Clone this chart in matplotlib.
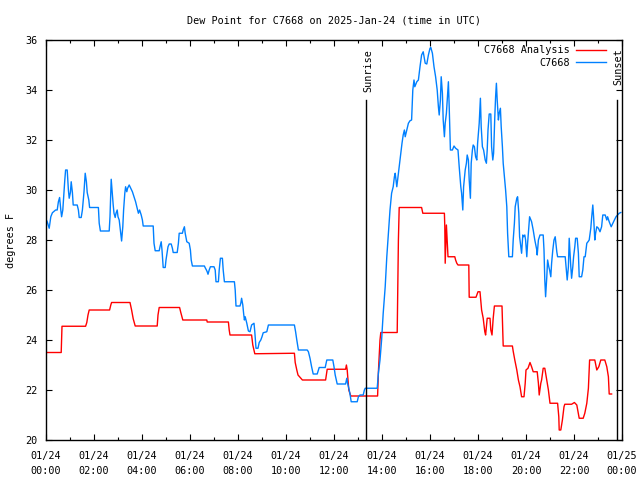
import matplotlib
matplotlib.use("Agg")
import matplotlib.pyplot as plt
import matplotlib.dates as mdates
import matplotlib.transforms as mtransforms
import pandas as pd

plt.rcParams['font.family'] = ['DejaVu Sans Mono']

title = "Dew Point for C7668 on 2025-Jan-24 (time in UTC)"
day = "2025-01-24"

# C7668 observations: minutes after 00:00 UTC, dew point (F)
obs_min = [0, 3, 8, 12, 16, 24, 28, 31, 34, 37, 39, 42, 47, 49, 53, 56, 58, 61, 63, 66, 68, 78, 81, 83, 88, 91, 95, 98, 101, 103, 107, 109, 131, 133, 136, 158, 160, 163, 165, 168, 170, 173, 175, 178, 180, 183, 185, 188, 189, 192, 194, 197, 199, 202, 204, 208, 212, 216, 220, 224, 228, 231, 234, 238, 241, 243, 268, 270, 273, 283, 285, 288, 290, 292, 293, 298, 300, 303, 305, 308, 313, 316, 318, 328, 331, 333, 341, 343, 346, 348, 352, 358, 361, 363, 366, 396, 398, 401, 403, 405, 408, 411, 420, 423, 425, 431, 433, 436, 441, 443, 446, 471, 473, 475, 485, 487, 489, 492, 494, 496, 498, 502, 506, 510, 514, 520, 522, 525, 530, 533, 537, 540, 543, 552, 556, 621, 624, 627, 631, 653, 656, 660, 664, 668, 678, 683, 698, 702, 717, 720, 723, 728, 749, 752, 754, 758, 760, 763, 778, 781, 785, 793, 796, 798, 828, 831, 835, 839, 843, 848, 852, 856, 860, 864, 868, 871, 873, 877, 879, 883, 887, 890, 893, 896, 898, 902, 906, 910, 914, 917, 920, 922, 927, 931, 935, 939, 943, 948, 952, 956, 960, 962, 966, 970, 974, 978, 981, 983, 986, 988, 991, 993, 996, 998, 1001, 1003, 1006, 1008, 1011, 1016, 1020, 1024, 1030, 1033, 1037, 1039, 1042, 1044, 1048, 1051, 1053, 1056, 1058, 1061, 1063, 1066, 1068, 1071, 1074, 1077, 1079, 1083, 1086, 1088, 1091, 1094, 1098, 1101, 1103, 1105, 1108, 1112, 1114, 1117, 1119, 1122, 1124, 1126, 1128, 1131, 1133, 1136, 1138, 1141, 1143, 1146, 1149, 1152, 1154, 1157, 1166, 1168, 1171, 1173, 1177, 1179, 1182, 1184, 1187, 1189, 1192, 1194, 1197, 1199, 1202, 1204, 1207, 1209, 1214, 1218, 1222, 1227, 1228, 1231, 1235, 1243, 1245, 1247, 1249, 1252, 1254, 1257, 1259, 1262, 1264, 1267, 1270, 1273, 1277, 1279, 1298, 1301, 1303, 1306, 1308, 1312, 1314, 1317, 1319, 1322, 1324, 1328, 1331, 1333, 1339, 1342, 1345, 1348, 1352, 1355, 1358, 1362, 1364, 1367, 1369, 1372, 1374, 1377, 1381, 1385, 1389, 1392, 1398, 1402, 1404, 1408, 1413, 1417, 1421, 1425, 1429, 1433, 1437]
obs_val = [28.83, 28.73, 28.47, 28.93, 29.09, 29.2, 29.2, 29.53, 29.7, 29.2, 28.93, 29.2, 30.4, 30.8, 30.8, 30.0, 29.67, 29.9, 30.33, 29.9, 29.4, 29.4, 29.2, 28.9, 28.9, 29.2, 29.93, 30.67, 30.33, 29.9, 29.6, 29.3, 29.3, 28.67, 28.36, 28.36, 28.93, 30.43, 30.0, 29.4, 29.07, 28.9, 29.07, 29.2, 28.93, 28.8, 28.53, 28.13, 27.96, 28.53, 29.2, 29.87, 30.13, 29.93, 30.07, 30.2, 30.07, 29.93, 29.73, 29.53, 29.27, 29.07, 29.2, 29.0, 28.8, 28.56, 28.56, 27.87, 27.57, 27.57, 27.73, 27.93, 27.6, 27.13, 26.9, 26.9, 27.2, 27.53, 27.73, 27.84, 27.84, 27.67, 27.5, 27.5, 27.87, 28.27, 28.27, 28.4, 28.53, 28.27, 27.93, 27.87, 27.6, 27.2, 26.96, 26.96, 26.89, 26.8, 26.73, 26.63, 26.8, 26.93, 26.93, 26.8, 26.33, 26.33, 26.8, 27.27, 27.27, 26.8, 26.33, 26.33, 26.0, 25.36, 25.36, 25.47, 25.67, 25.4, 25.07, 24.8, 24.93, 24.67, 24.36, 24.33, 24.6, 24.67, 24.33, 23.67, 23.67, 23.9, 24.0, 24.13, 24.29, 24.33, 24.6, 24.6, 24.33, 24.0, 23.6, 23.6, 23.53, 23.27, 22.93, 22.64, 22.64, 22.9, 22.9, 23.2, 23.2, 22.93, 22.6, 22.24, 22.24, 22.47, 22.27, 22.0, 21.84, 21.53, 21.53, 21.73, 21.8, 21.8, 22.0, 22.07, 22.07, 22.67, 23.2, 24.0, 25.07, 26.13, 27.33, 28.27, 29.2, 29.87, 30.13, 30.53, 30.67, 30.13, 30.4, 30.93, 31.47, 31.87, 32.2, 32.4, 32.13, 32.4, 32.67, 32.77, 32.8, 34.0, 34.4, 34.13, 34.33, 34.4, 34.93, 35.4, 35.53, 35.07, 35.04, 35.4, 35.67, 35.7, 35.47, 34.93, 34.53, 34.0, 33.33, 33.0, 33.6, 34.53, 33.87, 32.8, 32.13, 32.67, 33.07, 33.6, 34.33, 33.33, 31.6, 31.6, 31.76, 31.67, 31.6, 30.93, 30.13, 29.87, 29.2, 30.13, 30.8, 31.07, 31.4, 31.2, 30.4, 29.67, 31.07, 31.6, 31.8, 31.73, 31.33, 31.2, 31.87, 32.67, 33.67, 32.53, 31.73, 31.6, 31.2, 31.07, 31.6, 32.4, 33.04, 33.04, 31.73, 31.2, 31.47, 32.93, 33.73, 34.27, 33.6, 32.8, 33.07, 33.27, 32.53, 31.73, 31.07, 30.53, 30.0, 29.33, 28.27, 27.33, 27.33, 28.0, 28.67, 29.33, 29.67, 29.73, 29.07, 28.13, 27.73, 27.47, 28.2, 28.13, 28.2, 28.0, 27.33, 27.87, 28.53, 28.93, 28.73, 28.4, 28.0, 27.6, 27.4, 28.0, 28.2, 28.2, 27.6, 26.4, 25.73, 26.53, 27.2, 26.93, 26.8, 26.53, 27.07, 27.6, 28.0, 28.13, 27.53, 27.33, 27.33, 26.8, 26.4, 26.93, 28.07, 26.93, 26.47, 26.93, 27.33, 27.73, 28.07, 28.07, 27.47, 26.53, 26.53, 26.8, 27.33, 27.33, 27.87, 27.93, 28.0, 28.47, 28.87, 29.4, 28.93, 28.0, 28.27, 28.53, 28.47, 28.33, 28.53, 29.0, 29.0, 28.8, 28.93, 28.73, 28.53, 28.67, 28.8, 28.93, 29.0, 29.07, 29.1]

# C7668 Analysis: minutes after 00:00 UTC, dew point (F)
ana_min = [0, 38, 39, 40, 99, 102, 105, 108, 159, 162, 164, 210, 214, 218, 223, 278, 280, 283, 334, 337, 342, 402, 403, 456, 458, 460, 514, 517, 522, 621, 623, 627, 630, 641, 699, 703, 749, 751, 753, 755, 757, 762, 829, 831, 833, 835, 837, 878, 879, 881, 883, 939, 942, 996, 997, 998, 999, 1001, 1003, 1005, 1022, 1024, 1027, 1030, 1057, 1058, 1075, 1080, 1085, 1089, 1093, 1097, 1099, 1103, 1110, 1112, 1115, 1118, 1121, 1140, 1143, 1166, 1168, 1172, 1177, 1181, 1185, 1189, 1195, 1198, 1200, 1205, 1210, 1214, 1218, 1228, 1231, 1233, 1237, 1239, 1243, 1247, 1252, 1256, 1260, 1279, 1282, 1283, 1287, 1291, 1295, 1297, 1314, 1321, 1327, 1333, 1343, 1347, 1352, 1356, 1359, 1372, 1377, 1382, 1387, 1397, 1402, 1406, 1408, 1414]
ana_val = [23.5, 23.5, 24.0, 24.55, 24.55, 24.7, 25.0, 25.2, 25.2, 25.4, 25.5, 25.5, 25.2, 24.85, 24.56, 24.56, 25.0, 25.3, 25.3, 25.1, 24.8, 24.8, 24.72, 24.72, 24.4, 24.2, 24.2, 23.8, 23.45, 23.47, 23.1, 22.8, 22.6, 22.4, 22.4, 22.83, 22.83, 23.0, 22.8, 22.4, 22.0, 21.76, 21.76, 22.73, 23.4, 24.0, 24.3, 24.3, 25.53, 28.0, 29.3, 29.3, 29.07, 29.07, 28.53, 27.07, 27.6, 28.6, 28.0, 27.33, 27.33, 27.2, 27.07, 27.0, 27.0, 25.71, 25.71, 25.93, 25.93, 25.2, 24.87, 24.33, 24.2, 24.87, 24.87, 24.4, 24.2, 24.87, 25.36, 25.36, 23.76, 23.76, 23.55, 23.2, 22.8, 22.4, 22.13, 21.73, 21.73, 22.27, 22.8, 22.87, 23.1, 22.93, 22.73, 22.73, 22.27, 21.8, 22.27, 22.4, 22.87, 22.87, 22.4, 22.0, 21.47, 21.47, 20.93, 20.4, 20.4, 20.8, 21.33, 21.43, 21.43, 21.5, 21.4, 20.87, 20.87, 21.07, 21.47, 22.07, 23.2, 23.2, 22.8, 22.93, 23.2, 23.2, 22.93, 22.53, 21.84, 21.84]

sunrise = "13:21"
sunset = "23:48"
series_names = ["C7668 Analysis", "C7668"]
series_colors = ["#ff0000", "#0080ff"]

base = pd.Timestamp(day)
obs_t = base + pd.to_timedelta(obs_min, unit="m")
ana_t = base + pd.to_timedelta(ana_min, unit="m")

fig = plt.figure(figsize=(6.4, 4.8), dpi=100)
ax = fig.add_axes([46/640, 40/480, 576/640, 400/480])

ax.plot(ana_t, ana_val, color=series_colors[0], lw=1.0, label=series_names[0])
ax.plot(obs_t, obs_val, color=series_colors[1], lw=1.0, label=series_names[1])

ax.set_xlim(base, base + pd.Timedelta(hours=24))
ax.set_ylim(20, 36)
ax.set_yticks(range(20, 37, 2))

ax.xaxis.set_major_locator(mdates.HourLocator(byhour=range(0, 24, 2)))
ax.xaxis.set_minor_locator(mdates.HourLocator())
ax.xaxis.set_major_formatter(mdates.DateFormatter("%m/%d\n%H:%M"))

fs = 7.3
ax.tick_params(axis="both", which="both", direction="in", top=True, right=True, labelsize=fs)
ax.tick_params(axis="both", which="major", length=4, width=0.8, pad=6)
ax.tick_params(axis="x", which="major", pad=8)
ax.tick_params(axis="x", which="minor", length=2, width=0.8)
for lbl in ax.get_xticklabels():
    lbl.set_linespacing(1.6)
for s in ax.spines.values():
    s.set_linewidth(1.0)

ax.set_ylabel("degrees F", fontsize=fs, labelpad=7)
ax.set_title(title, fontsize=fs, pad=12)

offset = mtransforms.offset_copy(ax.transData, fig=fig, x=1.5, y=0, units="dots")
for tstr, name in [(sunrise, "Sunrise"), (sunset, "Sunset")]:
    t = base + pd.Timedelta(tstr + ":00")
    ax.plot([t, t], [20, 33.6], color="black", lw=1.0)
    ax.text(t, 35.65, name, rotation=90, ha="center", va="top", fontsize=fs,
            transform=offset)

leg = ax.legend(loc="upper right", bbox_to_anchor=(0.985, 1.005), frameon=False,
                markerfirst=False, fontsize=fs, handlelength=3.0,
                labelspacing=0.25, handletextpad=0.6, borderpad=0.2)

fig.savefig("out.png", dpi=100)
